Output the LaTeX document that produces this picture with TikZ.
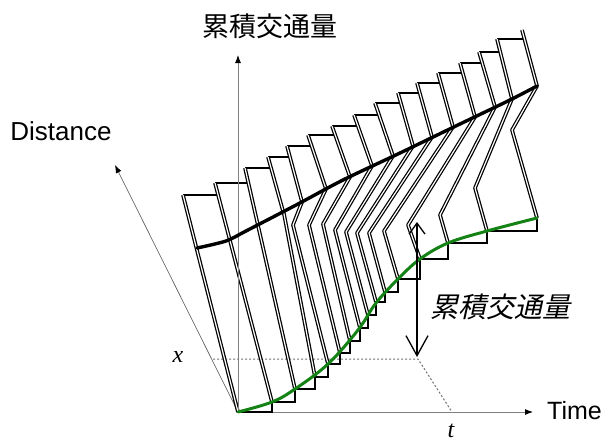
\documentclass[tikz,border=0pt]{standalone}
\usepackage{fontspec}
\setmainfont{Liberation Sans}
\newfontfamily\cjk{Noto Sans CJK JP}
\newfontfamily\cjkit[FakeSlant=0.22]{Noto Sans CJK JP}
\newfontfamily\tms{Liberation Serif}
\usetikzlibrary{arrows.meta}
\definecolor{grn}{RGB}{20,130,20}
\begin{document}
\begin{tikzpicture}[x=1pt,y=-1pt,
  slat/.style={line width=1.25pt,double=white,double distance=1.2pt,line join=round},
  tread/.style={line width=1.4pt},
  stair/.style={line width=1.8pt,line join=miter},
  axisline/.style={line width=0.9pt,draw=black!50},
  dotline/.style={line width=1pt,draw=black!55,dash pattern=on 2pt off 2pt},
  lab/.style={inner sep=0pt}]
\useasboundingbox (0,0) rectangle (609,447);

% ---- coordinates ----
\foreach \i/\x/\y in {0/183/195,1/215/183,2/245/168,3/268/157,4/287/146,5/308/135,6/332/126,7/354/115,8/375/103,9/398/93,10/417/83,11/438/73,12/460/63,13/479/52,14/497/39,15/522/30}
  \coordinate (T\i) at (\x,\y);
\foreach \i/\x/\y in {0/218/195,1/249/183,2/271/168,3/290/157,4/311/146,5/334/135,6/357/126,7/378/115,8/401/103,9/420/93,10/441/83,11/463/73,12/482/63,13/501/52,14/524/39}
  \coordinate (E\i) at (\x,\y);
\foreach \i/\x/\y in {3/283/211,4/302/202,5/326/189,6/350/177,7/372/166,8/393/156,9/413/146,10/432/137,11/453/127,12/475/117,13/495/107,14/512/99,15/537/86}
  \coordinate (B\i) at (\x,\y);
\foreach \i/\x/\y in {3/284/214,4/293/225,5/309/225,6/323/224,7/335/230,8/346/232,9/357/233,10/369/233,11/384/231,12/408/225,13/440/215,14/475/188,15/512/130}
  \coordinate (K\i) at (\x,\y);
\foreach \i/\x/\y in {0/238/412,1/272/402,2/295/389,3/315/377,4/328/364,5/340/353,6/350/341,7/360/328,8/368/315,9/376/302,10/385/292,11/398/279,12/420/259,13/448/243,14/487/231,15/537/218}
  \coordinate (C\i) at (\x,\y);

\coordinate (O) at (238,412);
\coordinate (Ytip) at (238,55);
\coordinate (Xtip) at (533,412);
\coordinate (Dtip) at (115,165);
\coordinate (Dx) at (213,359);
\coordinate (P) at (418,359);
\coordinate (Tt) at (452,412);
\coordinate (Atop) at (417,222);
\coordinate (Abot) at (417,357);

% ---- axes and dotted guides ----
\draw[axisline,-{Latex[length=8pt,width=6pt,color=black]}] (O) -- (Xtip);
\draw[axisline,line width=0.7pt,draw=black!60,-{Latex[length=8pt,width=6pt,color=black]}] (O) -- (Dtip);
\draw[dotline] (Dx) -- (P) -- (Tt);

% ---- top treads ----
\foreach \i in {0,...,14}
  \draw[tread] (T\i) -- (E\i);

% ---- slats ----
\draw[slat] (T0) -- (C0);
\draw[slat] (T1) -- (C1);
\draw[slat] (T2) -- (C2);
\foreach \i in {3,...,15}
  \draw[slat] (T\i) -- (B\i) -- (K\i) -- (C\i);

% ---- vertical axis ----
\draw[axisline,-{Latex[length=8pt,width=6pt,color=black]}] (O) -- (Ytip);

% ---- bottom staircase ----
\draw[stair] (C0) -- (C0 -| C1) -- (C1) -- (C1 -| C2) -- (C2) -- (C2 -| C3) -- (C3)
  -- (C3 -| C4) -- (C4) -- (C4 -| C5) -- (C5) -- (C5 -| C6) -- (C6) -- (C6 -| C7) -- (C7)
  -- (C7 -| C8) -- (C8) -- (C8 -| C9) -- (C9) -- (C9 -| C10) -- (C10) -- (C10 -| C11) -- (C11)
  -- (C11 -| C12) -- (C12) -- (C12 -| C13) -- (C13) -- (C13 -| C14) -- (C14) -- (C14 -| C15) -- (C15);

% ---- green curve (x = 0) ----
\draw[grn,line width=3pt,line cap=round] plot[smooth,tension=0.6] coordinates
  {(238,412) (272,402) (295,389) (328,364) (358,330) (376,303) (398,279) (420,259) (448,243) (487,231) (537,218)};

% ---- black thick curve ----
\draw[line width=3.4pt,line cap=round] plot[smooth,tension=0.5] coordinates
  {(197,248) (226,241) (246,231) (298,204) (343,180) (400,153) (460,124) (510,100) (537,86)};

% ---- N arrow ----
\draw[line width=1.3pt,{Straight Barb[length=11pt,width=16pt]}-{Straight Barb[length=20pt,width=22pt]}] (Atop) -- (Abot);

% ---- labels ----
\node[lab] (ylab) at (270,26) {\cjk\fontsize{27}{27}\selectfont 累積交通量};
\node[lab] (dlab) at (61,131) {\fontsize{26}{26}\selectfont Distance};
\node[lab,anchor=west] (tlab) at (547,411) {\fontsize{25}{25}\selectfont Time};
\node[lab] (xlab) at (178,357) {\tms\itshape\fontsize{24}{24}\selectfont x};
\node[lab] (tl) at (451,431) {\tms\itshape\fontsize{24}{24}\selectfont t};
\node[lab] (nlab) at (500,307) {\cjkit\fontsize{28}{28}\selectfont 累積交通量};
\end{tikzpicture}
\end{document}
